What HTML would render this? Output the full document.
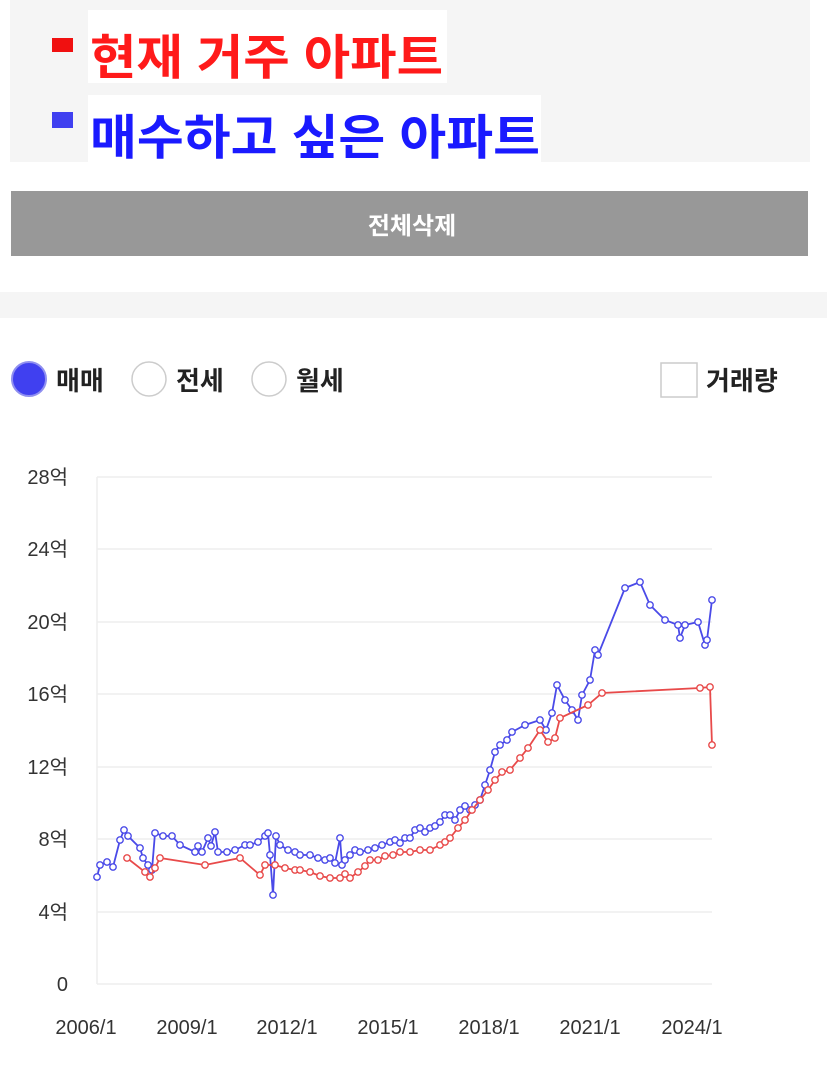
<!DOCTYPE html>
<html><head><meta charset="utf-8"><style>
html,body{margin:0;padding:0;background:#fff;width:827px;height:1068px;overflow:hidden}
text{font-family:"Liberation Sans","Noto Sans CJK KR",sans-serif}
</style></head><body>
<svg width="827" height="1068" viewBox="0 0 827 1068" xmlns="http://www.w3.org/2000/svg">
<defs>
<marker id="mb" markerUnits="userSpaceOnUse" markerWidth="10" markerHeight="10" refX="5" refY="5"><circle cx="5" cy="5" r="3.2" fill="#fff" stroke="#4a4ae8" stroke-width="1.4"/></marker>
<marker id="mr" markerUnits="userSpaceOnUse" markerWidth="10" markerHeight="10" refX="5" refY="5"><circle cx="5" cy="5" r="3.2" fill="#fff" stroke="#e84a4a" stroke-width="1.4"/></marker>
</defs>
<rect x="10" y="0" width="800" height="162" fill="#f5f5f5"/>
<rect x="88" y="10" width="359" height="73" fill="#fff"/>
<rect x="88" y="95" width="453" height="67" fill="#fff"/>
<rect x="52" y="38" width="21" height="14" fill="#f01010"/>
<rect x="52" y="112" width="21" height="16" fill="#4040f0"/>
<text x="90" y="74" font-size="48" font-weight="bold" fill="#ff1a1a" textLength="353" lengthAdjust="spacingAndGlyphs" font-family="'Noto Sans CJK KR',sans-serif">현재 거주 아파트</text>
<text x="90" y="154" font-size="48" font-weight="bold" fill="#1a1aff" textLength="450" lengthAdjust="spacingAndGlyphs" font-family="'Noto Sans CJK KR',sans-serif">매수하고 싶은 아파트</text>
<rect x="11" y="191" width="797" height="65" fill="#989898"/>
<text x="412" y="234" font-size="24" font-weight="bold" fill="#fff" text-anchor="middle" font-family="'Noto Sans CJK KR',sans-serif">전체삭제</text>
<rect x="0" y="292" width="827" height="26" fill="#f5f5f5"/>
<circle cx="29" cy="379" r="17" fill="#4040f0" stroke="#9090f0" stroke-width="2"/>
<text x="56" y="390" font-size="26" font-weight="bold" fill="#222" font-family="'Noto Sans CJK KR',sans-serif">매매</text>
<circle cx="149" cy="379" r="17" fill="#fff" stroke="#ccc" stroke-width="1.5"/>
<text x="176" y="390" font-size="26" font-weight="bold" fill="#222" font-family="'Noto Sans CJK KR',sans-serif">전세</text>
<circle cx="269" cy="379" r="17" fill="#fff" stroke="#ccc" stroke-width="1.5"/>
<text x="296" y="390" font-size="26" font-weight="bold" fill="#222" font-family="'Noto Sans CJK KR',sans-serif">월세</text>
<rect x="661" y="363" width="36" height="34" fill="#fff" stroke="#ccc" stroke-width="1.5"/>
<text x="706" y="390" font-size="26" font-weight="bold" fill="#222" font-family="'Noto Sans CJK KR',sans-serif">거래량</text>
<g stroke="#eee" stroke-width="1.5">
<line x1="97" y1="477" x2="712" y2="477"/><line x1="97" y1="549" x2="712" y2="549"/>
<line x1="97" y1="622" x2="712" y2="622"/><line x1="97" y1="694" x2="712" y2="694"/>
<line x1="97" y1="767" x2="712" y2="767"/><line x1="97" y1="839" x2="712" y2="839"/>
<line x1="97" y1="912" x2="712" y2="912"/><line x1="97" y1="984" x2="712" y2="984"/>
<line x1="97" y1="477" x2="97" y2="984"/>
</g>
<g font-size="20" fill="#333" text-anchor="end" font-family="'Liberation Sans','Noto Sans CJK KR',sans-serif">
<text x="68" y="484">28억</text><text x="68" y="556">24억</text><text x="68" y="629">20억</text>
<text x="68" y="701">16억</text><text x="68" y="774">12억</text><text x="68" y="846">8억</text>
<text x="68" y="919">4억</text><text x="68" y="991">0</text>
</g>
<g font-size="20" fill="#333" text-anchor="middle">
<text x="86" y="1034">2006/1</text><text x="187" y="1034">2009/1</text><text x="287" y="1034">2012/1</text>
<text x="388" y="1034">2015/1</text><text x="489" y="1034">2018/1</text><text x="590" y="1034">2021/1</text><text x="692" y="1034">2024/1</text>
</g>
<polyline fill="none" stroke="#4a4ae8" stroke-width="1.8" marker-start="url(#mb)" marker-mid="url(#mb)" marker-end="url(#mb)" points="97,877 100,865 107,862 113,867 120,840 124,830 128,836 140,848 143,858 148,865 152,870 155,833 163,836 172,836 180,845 195,852 198,846 202,852 208,838 211,846 215,832 218,852 227,852 235,850 245,845 250,845 258,842 265,836 268,833 270,855 273,895 276,836 280,845 288,850 295,852 300,855 310,855 318,858 325,860 330,858 335,863 340,838 342,865 345,860 350,855 355,850 360,852 368,850 375,848 382,845 390,842 395,840 400,843 405,838 410,838 415,830 420,828 425,832 430,828 435,826 440,822 445,815 450,815 455,820 460,810 465,806 470,810 475,805 480,800 485,785 490,770 495,752 500,745 507,740 512,732 525,725 540,720 546,730 552,713 557,685 565,700 572,710 578,720 582,695 590,680 595,650 598,655 625,588 640,582 650,605 665,620 678,625 680,638 685,625 698,622 705,645 707,640 712,600"/>
<polyline fill="none" stroke="#e84a4a" stroke-width="1.8" marker-start="url(#mr)" marker-mid="url(#mr)" marker-end="url(#mr)" points="127,858 145,872 150,877 155,868 160,858 205,865 240,858 260,875 265,865 275,865 285,868 295,870 300,870 310,872 320,876 330,878 340,878 345,874 350,878 358,872 365,866 370,860 378,860 385,856 393,855 400,852 410,852 420,850 430,850 440,845 445,842 450,838 458,828 465,820 472,810 480,800 488,790 495,780 502,772 510,770 520,758 528,748 540,730 548,742 555,738 560,718 588,705 602,693 700,688 710,687 712,745"/>
</svg>
</body></html>
